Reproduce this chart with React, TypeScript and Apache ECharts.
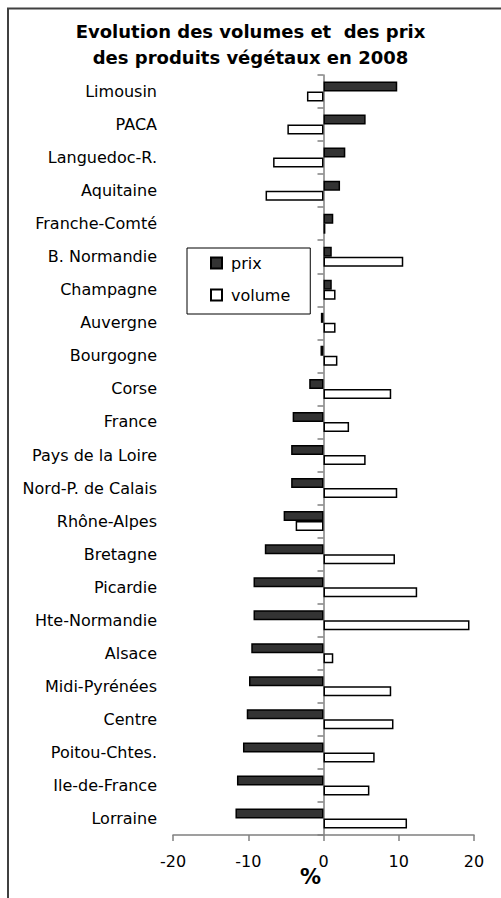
import React, { useEffect, useRef } from "react";
import * as echarts from "echarts";

const categories = [
  "Limousin", "PACA", "Languedoc-R.", "Aquitaine", "Franche-Comté", "B. Normandie",
  "Champagne", "Auvergne", "Bourgogne", "Corse", "France", "Pays de la Loire",
  "Nord-P. de Calais", "Rhône-Alpes", "Bretagne", "Picardie", "Hte-Normandie",
  "Alsace", "Midi-Pyrénées", "Centre", "Poitou-Chtes.", "Ile-de-France", "Lorraine",
];
const prix = [
  9.8, 5.6, 2.9, 2.2, 1.3, 1.1, 1.1, -0.35, -0.4, -1.9, -4.1, -4.3, -4.3, -5.3, -7.8,
  -9.3, -9.3, -9.6, -9.9, -10.2, -10.7, -11.5, -11.7,
];
const volume = [
  -2.2, -4.8, -6.7, -7.7, 0.25, 10.6, 1.6, 1.6, 1.85, 9.0, 3.4, 5.6, 9.8, -3.7, 9.5,
  12.45, 19.4, 1.3, 9.0, 9.3, 6.8, 6.1, 11.1,
];
const xTicks = { min: -20, max: 20, interval: 10 };
const titleText = "Evolution des volumes et  des prix\ndes produits végétaux en 2008";
const axisName = "%";

const FONT = "DejaVu Sans";

export default function App() {
  const ref = useRef<HTMLDivElement>(null);
  useEffect(() => {
    if (!ref.current) return;
    const chart = echarts.init(ref.current, null, { renderer: "svg" });
    chart.setOption({
      animation: false,
      backgroundColor: "#ffffff",
      title: {
        text: titleText,
        left: "center",
        top: 18,
        padding: [0, 0, 0, 20],
        textStyle: {
          fontFamily: FONT,
          fontWeight: "bold",
          fontSize: 18,
          lineHeight: 26,
          color: "#000",
        },
      },
      legend: {
        data: ["prix", "volume"],
        orient: "vertical",
        left: 187,
        top: 248,
        padding: [7, 20, 11, 23],
        itemWidth: 11,
        itemHeight: 11,
        itemGap: 16,
        backgroundColor: "#fff",
        borderColor: "#000",
        borderWidth: 1,
        borderRadius: 0,
        icon: "rect",
        textStyle: { fontFamily: FONT, fontSize: 16, color: "#000", padding: [0, 0, 0, 4] },
      },
      grid: {
        left: 173,
        right: 27,
        top: 75,
        bottom: 63,
        containLabel: false,
        outerBoundsMode: "none",
      },
      xAxis: {
        type: "value",
        min: xTicks.min,
        max: xTicks.max,
        interval: xTicks.interval,
        splitLine: { show: false },
        axisLine: { show: true, onZero: false, lineStyle: { color: "#808080", width: 1.5 } },
        axisTick: { show: true, length: 6, lineStyle: { color: "#808080", width: 1.5 } },
        axisLabel: { fontFamily: FONT, fontSize: 16, color: "#000", margin: 18 },
      },
      yAxis: {
        type: "category",
        data: categories,
        inverse: true,
        axisLine: { show: true, onZero: true, lineStyle: { color: "#808080", width: 1.5 } },
        axisTick: { show: true, length: 6, lineStyle: { color: "#808080", width: 1.5 } },
        axisLabel: { fontFamily: FONT, fontSize: 16, color: "#000", margin: 16, interval: 0 },
        splitLine: { show: false },
      },
      series: [
        {
          name: "prix",
          type: "bar",
          data: prix,
          barWidth: 10,
          barGap: "0%",
          itemStyle: { color: "#333333", borderColor: "#000", borderWidth: 1.5 },
        },
        {
          name: "volume",
          type: "bar",
          data: volume,
          barWidth: 10,
          barGap: "0%",
          itemStyle: { color: "#ffffff", borderColor: "#000", borderWidth: 1.5 },
        },
      ],
      graphic: [
        {
          type: "rect",
          shape: { x: 8, y: 8.5, width: 1000, height: 2000 },
          style: { fill: "none", stroke: "#404040", lineWidth: 2 },
          silent: true,
        },
        {
          type: "text",
          x: 310.5,
          y: 877,
          style: {
            text: axisName,
            fontFamily: FONT,
            fontWeight: "bold",
            fontSize: 21,
            fill: "#000",
            align: "center",
            verticalAlign: "middle",
          },
        },
      ],
    });
    return () => chart.dispose();
  }, []);
  return (
    <div
      ref={ref}
      style={{ position: "absolute", left: 0, top: 0, width: 501, height: 898 }}
    />
  );
}
